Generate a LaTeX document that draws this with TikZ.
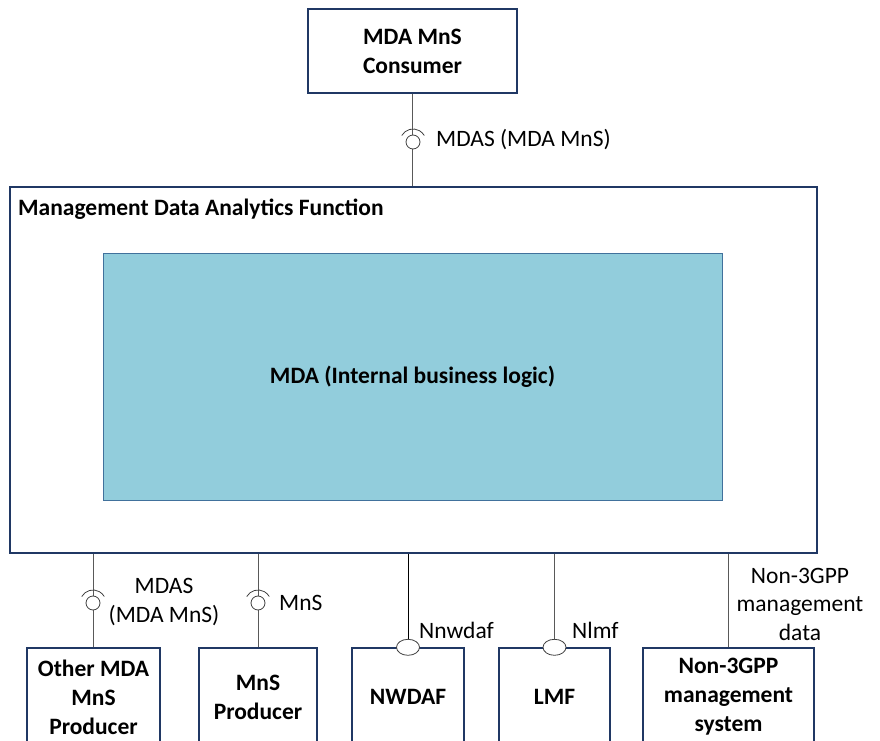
\documentclass[tikz,border=0pt]{standalone}
\usepackage{fontspec}
\setmainfont{Carlito}
\usetikzlibrary{calc}
\definecolor{navy}{HTML}{203864}
\definecolor{lineg}{HTML}{595959}
\definecolor{mdafill}{HTML}{92CDDC}
\definecolor{mdaline}{HTML}{41719C}
\begin{document}
\begin{tikzpicture}[x=1pt,y=1pt,
	box/.style={draw=navy,line width=1.4pt,fill=white,align=center,font=\fontsize{23.5}{29}\selectfont\bfseries,inner sep=0pt},
	lbl/.style={font=\fontsize{23.5}{28.5}\selectfont,align=center,inner sep=0pt},
	link/.style={draw=lineg,line width=0.9pt},
	sock/.style={draw=black!75,line width=0.8pt,fill=white}]
			\def\sr{7} % ban kinh vong tron
			\def\ar{13}
			\useasboundingbox (0,0) rectangle (880,740);
			% cac khoi
			\node[box,minimum width=209,minimum height=84] (consumer) at (412.5,689) {MDA MnS\\Consumer};
			\node[box,minimum width=807,minimum height=366] (mdaf) at (413.5,370) {};
			\node[font=\fontsize{23.5}{28}\selectfont\bfseries,anchor=base west,inner sep=0pt] (mdaft) at (18,524) {Management Data Analytics Function};
			\node[box,draw=mdaline,line width=1pt,fill=mdafill,minimum width=619,minimum height=246] (mda) at (412.5,363) {MDA (Internal business logic)};
			\node[box,minimum width=133,minimum height=98] (other) at (93.5,43) {Other MDA\\MnS\\Producer};
			\node[box,minimum width=118,minimum height=98] (mnsp) at (258,43) {MnS\\Producer};
			\node[box,minimum width=112,minimum height=98] (nwdaf) at (408,43) {NWDAF};
			\node[box,minimum width=111,minimum height=98] (lmf) at (554.5,43) {LMF};
			\node[box,minimum width=171,minimum height=98] (non3gpp) at (728.5,43) {Non-3GPP\\management\\system};
			% cac duong noi
			\draw[link] (consumer.south) -- (consumer.south |- mdaf.north);
			\draw[link] (other.north) -- (other.north |- mdaf.south);
			\draw[link] (mnsp.north) -- (mnsp.north |- mdaf.south);
			\draw[line width=0.9pt] (nwdaf.north) -- (nwdaf.north |- mdaf.south);
			\draw[link] (lmf.north) -- (lmf.north |- mdaf.south);
			\draw[link] (non3gpp.north) -- (non3gpp.north |- mdaf.south);
			% giao dien
			\coordinate (s1) at (413,598);
			\coordinate (s2) at (93,137);
			\coordinate (s3) at (258,137);
			\foreach \s in {s1,s2,s3}{
				\draw[sock] (\s) circle (\sr);
				\draw[sock,fill=none] ($(\s)+(150:\ar)$) arc (150:30:\ar);
			}
			\draw[sock] (nwdaf.north) ellipse (11.5 and 8);
			\draw[sock] (lmf.north) ellipse (11.5 and 8);
			\node[lbl,anchor=west] (l1) at (436,600) {MDAS (MDA MnS)};
			\node[lbl] (l2) at (164,138) {MDAS\\(MDA MnS)};
			\node[lbl,anchor=west] (l3) at (279,137) {MnS};
			\node[lbl,anchor=west] (l4) at (419,110) {Nnwdaf};
			\node[lbl,anchor=west] (l5) at (572,110) {Nlmf};
			\node[lbl] (l6) at (800,136) {Non-3GPP\\management\\data};
		\end{tikzpicture}
\end{document}
